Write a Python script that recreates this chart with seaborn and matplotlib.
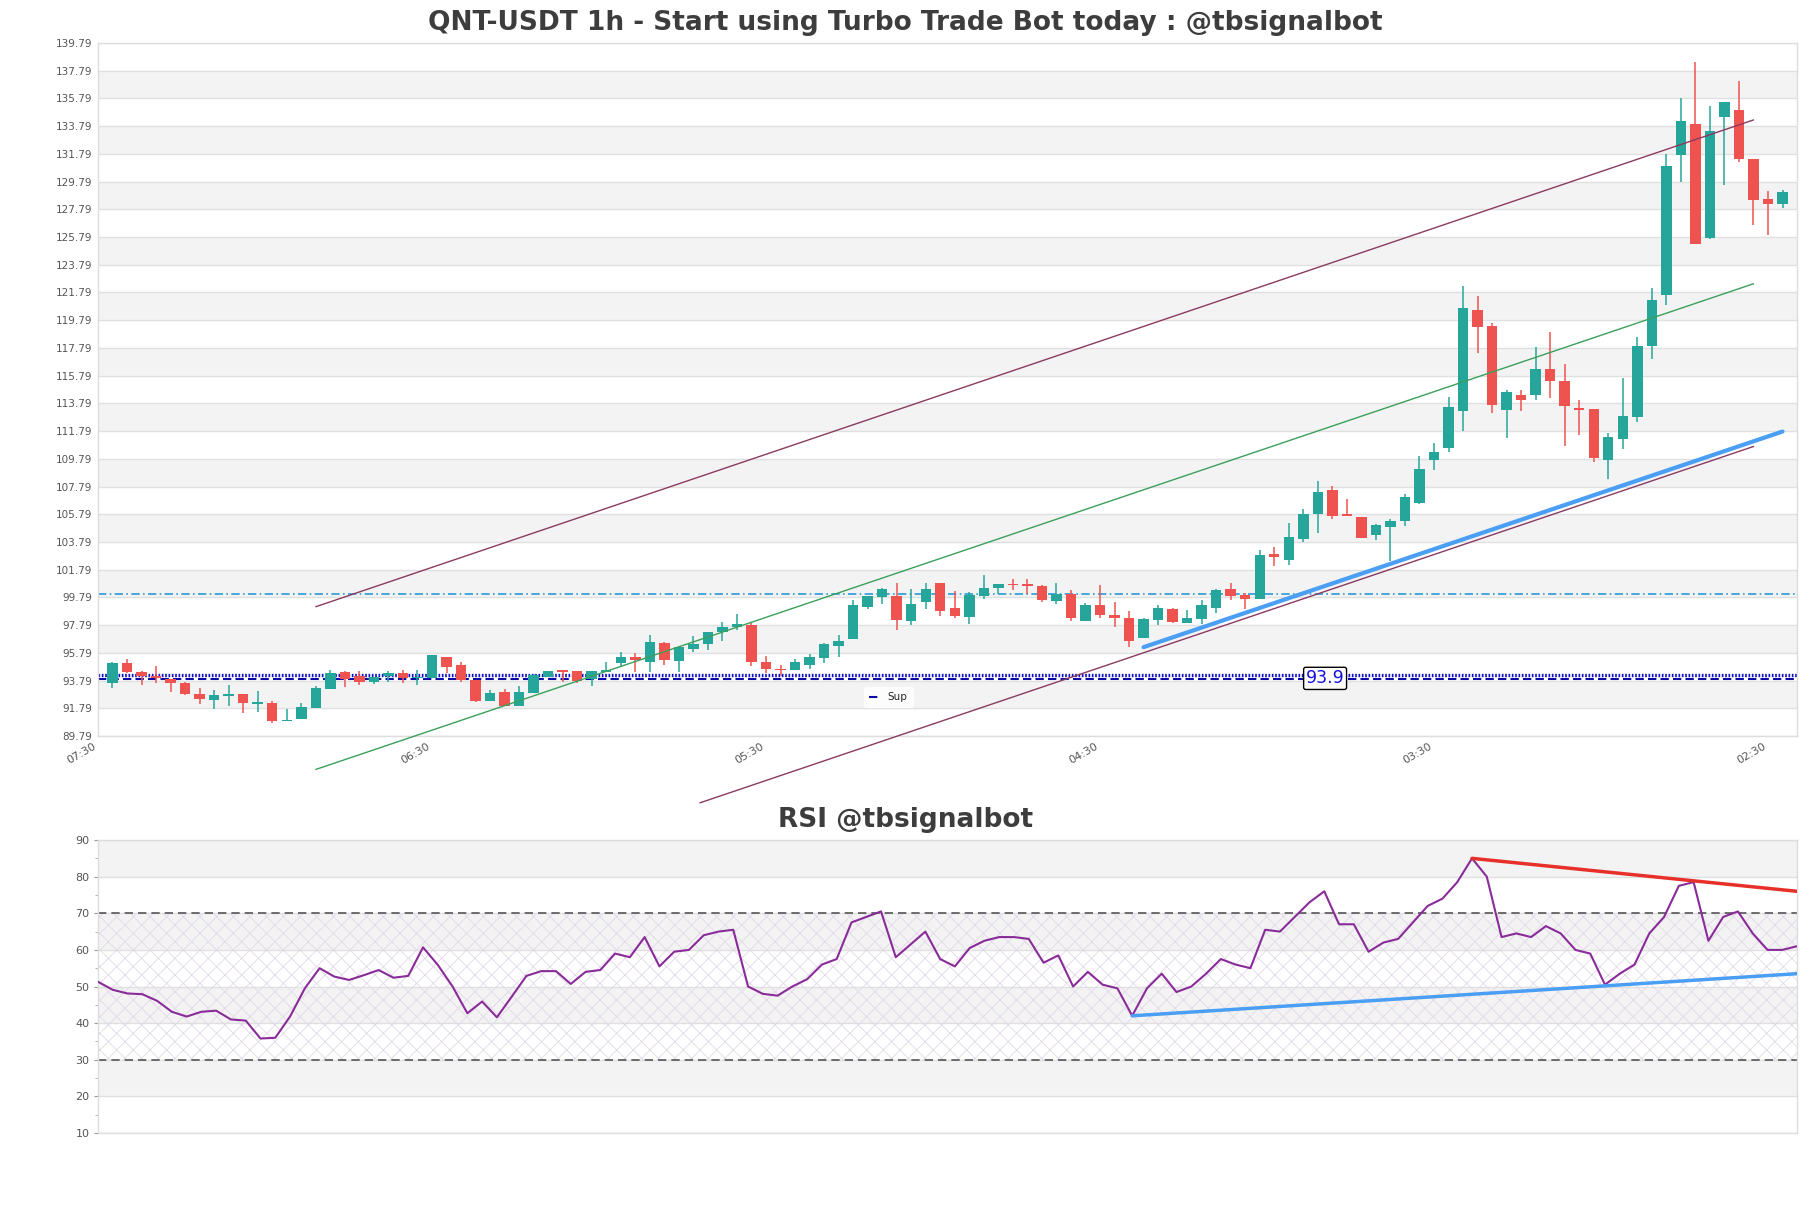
import matplotlib
matplotlib.use("Agg")
import matplotlib.pyplot as plt
import seaborn as sns
import numpy as np
import pandas as pd

# ---------------- data ----------------
opens = [93.59, 95.05, 94.40, 94.14, 93.90, 93.59, 92.82, 92.41, 92.70, 92.82,
         92.10, 92.17, 90.85, 91.04, 91.79, 93.18, 94.38, 94.09, 93.71, 94.09,
         94.33, 93.95, 93.97, 95.46, 94.90, 93.85, 92.33, 92.94, 91.97, 92.86,
         94.06, 94.50, 94.47, 93.87, 94.42, 95.05, 95.46, 95.14, 96.49, 95.22,
         96.06, 96.42, 97.31, 97.69, 97.79, 95.10, 94.62, 94.57, 94.93, 95.43,
         96.30, 96.78, 99.11, 99.83, 99.90, 98.10, 99.47, 100.81, 99.06, 98.39,
         99.90, 100.50, 100.76, 100.74, 100.62, 99.54, 100.02, 98.10, 99.23, 98.51,
         98.34, 96.83, 98.18, 98.99, 97.98, 98.22, 99.04, 100.38, 99.95, 99.66,
         102.90, 102.50, 103.99, 105.79, 107.52, 105.79, 105.62, 104.28, 104.90, 105.31,
         106.58, 109.70, 110.59, 113.23, 120.56, 119.36, 113.31, 114.36, 114.43, 116.24,
         115.39, 113.47, 113.35, 109.70, 111.24, 112.80, 117.92, 121.64, 131.72, 133.96,
         125.72, 134.42, 134.97, 131.44, 128.53, 128.19]
highs = [95.10, 95.34, 94.45, 94.81, 93.90, 93.71, 93.23, 93.11, 93.47, 92.82,
         93.06, 92.34, 91.74, 92.15, 93.39, 94.52, 94.50, 94.45, 94.04, 94.45,
         94.59, 94.52, 95.63, 95.46, 95.14, 93.85, 93.10, 93.18, 93.42, 94.26,
         94.47, 94.50, 94.47, 94.45, 95.10, 95.82, 95.77, 97.07, 96.54, 96.30,
         97.02, 97.33, 98.03, 98.58, 97.98, 95.58, 94.93, 95.38, 95.74, 96.49,
         97.07, 99.59, 99.90, 100.50, 100.81, 100.38, 100.81, 100.81, 100.26, 100.19,
         101.39, 100.74, 101.10, 101.10, 100.67, 100.86, 100.33, 99.37, 100.67, 99.49,
         98.82, 98.27, 99.23, 99.06, 98.87, 99.59, 100.38, 100.81, 100.14, 103.22,
         103.46, 105.19, 106.15, 108.19, 107.83, 106.87, 105.62, 105.12, 105.43, 107.28,
         109.99, 110.95, 114.27, 122.29, 121.57, 119.60, 114.79, 114.79, 117.84, 118.92,
         116.60, 114.03, 113.35, 111.67, 115.59, 118.56, 122.12, 131.80, 135.81, 138.45,
         135.26, 135.52, 137.06, 131.44, 129.08, 129.15]
lows = [93.27, 94.35, 93.49, 93.63, 92.99, 92.77, 92.12, 91.76, 91.98, 91.47,
        91.50, 90.70, 90.85, 91.00, 91.79, 93.18, 93.35, 93.47, 93.54, 93.71,
        93.63, 93.44, 93.97, 94.31, 93.70, 92.21, 92.33, 91.93, 91.97, 92.86,
        94.06, 93.70, 93.61, 93.42, 94.42, 94.86, 94.38, 94.42, 94.93, 94.38,
        95.82, 95.99, 96.66, 97.45, 94.86, 94.33, 94.14, 94.57, 94.62, 95.05,
        95.50, 96.78, 98.94, 99.30, 97.43, 97.79, 98.94, 98.46, 98.34, 97.86,
        99.66, 100.07, 100.33, 100.02, 99.47, 99.35, 98.10, 98.10, 98.34, 97.69,
        96.18, 96.83, 97.82, 97.98, 97.98, 97.86, 98.66, 99.61, 98.94, 99.66,
        102.07, 102.11, 103.80, 104.42, 105.43, 105.67, 104.11, 103.94, 102.43, 104.95,
        106.51, 108.98, 110.28, 111.80, 117.40, 113.11, 111.31, 113.23, 114.03, 114.15,
        110.71, 111.48, 109.56, 108.30, 110.52, 112.44, 117.00, 120.92, 129.73, 125.29,
        125.65, 129.56, 131.17, 126.68, 125.96, 127.88]
closes = [95.05, 94.43, 94.09, 94.00, 93.63, 92.82, 92.46, 92.75, 92.82, 92.19,
          92.22, 90.90, 90.97, 91.86, 93.23, 94.31, 93.90, 93.71, 94.04, 94.35,
          93.95, 94.04, 95.63, 94.79, 93.82, 92.33, 92.89, 91.97, 92.94, 94.18,
          94.47, 94.42, 93.75, 94.45, 94.57, 95.46, 95.31, 96.61, 95.29, 96.18,
          96.42, 97.33, 97.69, 97.86, 95.14, 94.62, 94.52, 95.10, 95.46, 96.42,
          96.66, 99.23, 99.90, 100.38, 98.15, 99.30, 100.38, 98.82, 98.46, 99.95,
          100.50, 100.74, 100.67, 100.62, 99.61, 100.02, 98.34, 99.23, 98.53, 98.32,
          96.66, 98.22, 99.06, 98.03, 98.34, 99.23, 100.31, 99.90, 99.71, 102.83,
          102.74, 104.16, 105.79, 107.42, 105.67, 105.67, 104.11, 105.00, 105.31, 107.06,
          109.08, 110.28, 113.55, 120.68, 119.29, 113.64, 114.60, 114.03, 116.24, 115.39,
          113.59, 113.31, 109.87, 111.36, 112.87, 117.92, 121.28, 130.93, 134.17, 125.29,
          133.41, 135.52, 131.44, 128.48, 128.19, 129.03]

rsi = [51.3, 49.1, 48.1, 47.9, 46.1, 43.1, 41.8, 43.1, 43.4, 41.0,
       40.7, 35.8, 36.0, 41.8, 49.5, 55.0, 52.7, 51.8, 53.1, 54.5,
       52.4, 52.9, 60.7, 55.9, 50.0, 42.7, 45.9, 41.6, 47.2, 52.9,
       54.2, 54.2, 50.7, 54.0, 54.5, 59.0, 58.0, 63.5, 55.5, 59.5,
       60.0, 64.0, 65.0, 65.5, 50.0, 48.0, 47.5, 50.0, 52.0, 56.0,
       57.5, 67.5, 69.0, 70.5, 58.0, 61.5, 65.0, 57.5, 55.5, 60.5,
       62.5, 63.5, 63.5, 63.0, 56.5, 58.5, 50.0, 54.0, 50.5, 49.5,
       42.0, 49.5, 53.5, 48.5, 50.0, 53.5, 57.5, 56.0, 55.0, 65.5,
       65.0, 69.0, 73.0, 76.0, 67.0, 67.0, 59.5, 62.0, 63.0, 67.5,
       72.0, 74.0, 78.5, 85.0, 80.0, 63.5, 64.5, 63.5, 66.5, 64.5,
       60.0, 59.0, 50.5, 53.5, 56.0, 64.5, 69.0, 77.5, 78.5, 62.5,
       69.0, 70.5, 64.5, 60.0, 60.0, 61.0]

tick_idx = [-1, 22, 45, 68, 91, 114]
tick_labels = ['07:30', '06:30', '05:30', '04:30', '03:30', '02:30']
yticks_price = [89.79 + 2 * k for k in range(26)]

# trend lines (index, price)
upper_x, upper_y = [14, 113], [99.12, 134.24]
mid_x, mid_y = [14, 113], [87.38, 122.42]
lower_x, lower_y = [40.45, 113], [84.97, 110.68]
sup_tr_x, sup_tr_y = [71, 115], [96.2, 111.76]
res_level = 100.05
dot_level = 94.17
sup_level = 93.9

rsi_res_x, rsi_res_y = [93, 115], [85.0, 76.0]
rsi_sup_x, rsi_sup_y = [70, 115], [42.0, 53.5]

# ---------------- style ----------------
sns.set_theme(style="white")
plt.rcParams['font.family'] = ['DejaVu Sans']
plt.rcParams['xtick.color'] = '#555555'
plt.rcParams['ytick.color'] = '#555555'
plt.rcParams['hatch.linewidth'] = 0.6

GREEN = '#26a69a'
RED = '#ef5350'
BAND = '#f3f3f3'
GRID = '#e0e0e0'
SPINE = '#dddddd'

fig = plt.figure(figsize=(18.11, 12.08), dpi=100)
ax = fig.add_axes([0.0541, 0.3907, 0.9382, 0.5737])
ax2 = fig.add_axes([0.0541, 0.0621, 0.9382, 0.2425])

df = pd.DataFrame({'o': opens, 'h': highs, 'l': lows, 'c': closes})
df['i'] = np.arange(len(df))
df['up'] = df['c'] >= df['o']
df['col'] = np.where(df['up'], GREEN, RED)

# ---------------- main axis ----------------
ax.set_xlim(-1, len(df))
ax.set_ylim(89.79, 139.79)
for lo in np.arange(91.79, 139.79, 4):
    ax.axhspan(lo, lo + 2, color=BAND, zorder=0, lw=0)
ax.set_yticks(yticks_price)
ax.set_yticklabels([f"{v:.2f}" for v in yticks_price], fontsize=7.5)
ax.yaxis.grid(True, color=GRID, lw=1, zorder=0.5)
ax.xaxis.grid(False)
ax.set_axisbelow(True)
ax.set_xticks(tick_idx)
ax.set_xticklabels(tick_labels, rotation=30, ha='right', fontsize=8)
ax.tick_params(axis='both', length=0, pad=4)
for s in ax.spines.values():
    s.set_color(SPINE)
    s.set_linewidth(1)

# candles
ax.vlines(df['i'], df['l'], df['h'], colors=df['col'], lw=1.1, zorder=3)
body_bottom = df[['o', 'c']].min(axis=1)
body_h = (df['c'] - df['o']).abs().clip(lower=0.1)
ax.bar(df['i'], body_h, bottom=body_bottom, width=0.72, color=df['col'],
       linewidth=0, zorder=4)

# horizontal levels
ax.axhline(res_level, color='#2a9ad8', lw=1.2, ls=(0, (5, 2, 1, 2)), zorder=2)
ax.axhline(dot_level, color='#1010c8', lw=2.4, ls=(0, (0.5, 0.5)), zorder=2)
ax.axhline(sup_level, color='#0a0aa8', lw=1.5, ls=(0, (4, 2)), zorder=2, label='Sup')

# trend lines
ax.plot(upper_x, upper_y, color='#8b3a62', lw=1.0, clip_on=False, zorder=5)
ax.plot(mid_x, mid_y, color='#3aa05a', lw=1.0, clip_on=False, zorder=5)
ax.plot(lower_x, lower_y, color='#8b3a62', lw=1.0, clip_on=False, zorder=5)
ax.plot(sup_tr_x, sup_tr_y, color='#4a9ff5', lw=3.0, clip_on=False, zorder=5)

ax.text(83.5, 93.95, '93.9', color='#1010e0', fontsize=12.5, ha='center', va='center',
        zorder=6, bbox=dict(boxstyle='round,pad=0.12', fc='white', ec='black', lw=1))

leg = ax.legend(loc='center', bbox_to_anchor=(0.465, 0.056), fontsize=7.5,
                frameon=True, handlelength=1.0, borderpad=0.5)
leg.get_frame().set_edgecolor('white')
leg.get_frame().set_facecolor('white')

fig.text(0.5, 0.981, 'QNT-USDT 1h - Start using Turbo Trade Bot today : @tbsignalbot',
         ha='center', va='center', fontsize=19, fontweight='bold', color='#3d3d3d')

# ---------------- RSI axis ----------------
n = len(rsi)
ax2.set_xlim(0, n - 1)
ax2.set_ylim(10, 90)
for lo in [20, 40, 60, 80]:
    ax2.axhspan(lo, lo + 10, color=BAND, zorder=0, lw=0)
ax2.fill_between([0, n - 1], 30, 70, facecolor='none', edgecolor='#e2d8e8',
                 hatch='xx', lw=0, zorder=0.6)
ax2.set_yticks(range(10, 91, 10))
ax2.set_yticks(range(15, 90, 10), minor=True)
ax2.set_yticklabels([str(v) for v in range(10, 91, 10)], fontsize=8)
ax2.yaxis.grid(True, color=GRID, lw=1)
ax2.set_xticks([])
ax2.tick_params(axis='y', which='major', length=3, width=0.8, color='#999999', pad=3, left=True)
ax2.tick_params(axis='y', which='minor', length=2, width=0.6, color='#aaaaaa', left=True)
for s in ax2.spines.values():
    s.set_color(SPINE)
    s.set_linewidth(1)
ax2.axhline(70, color='#555555', lw=1.2, ls=(0, (5, 3)), zorder=2)
ax2.axhline(30, color='#555555', lw=1.2, ls=(0, (5, 3)), zorder=2)

rdf = pd.DataFrame({'x': np.arange(n), 'rsi': rsi})
sns.lineplot(data=rdf, x='x', y='rsi', ax=ax2, color='#8a2b9a', lw=1.5, zorder=4)
ax2.plot(rsi_res_x, rsi_res_y, color='#e8302a', lw=2.5, zorder=5)
ax2.plot(rsi_sup_x, rsi_sup_y, color='#4a9ff5', lw=2.5, zorder=5)
ax2.set_xlabel('')
ax2.set_ylabel('')

fig.text(0.5, 0.3212, 'RSI @tbsignalbot', ha='center', va='center', fontsize=19,
         fontweight='bold', color='#3d3d3d')

fig.savefig('out.png', dpi=100)
